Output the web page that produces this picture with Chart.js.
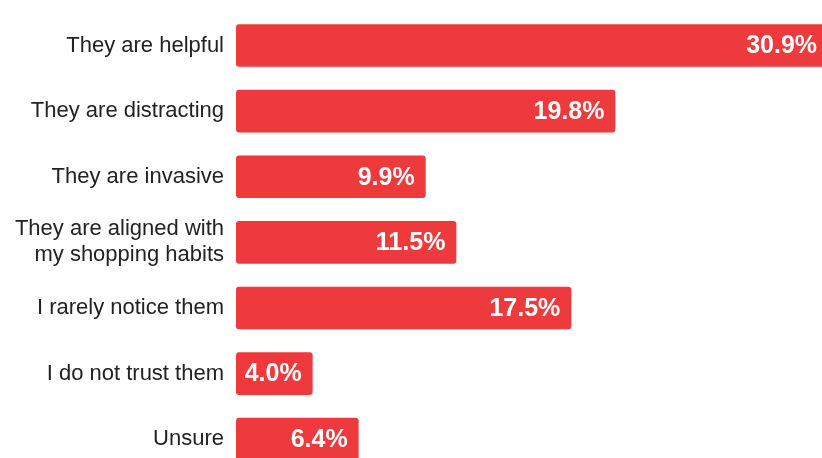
<!DOCTYPE html>
<html>
<head>
<meta charset="utf-8">
<script src="https://cdn.jsdelivr.net/npm/chart.js@4"></script>
<style>
  html, body { margin: 0; padding: 0; background: #fff; overflow: hidden; }
  #wrap { width: 830px; height: 480px; }
</style>
</head>
<body>
<div id="wrap"><canvas id="opinionChart" width="830" height="480"></canvas></div>
<script>
// --- Data ---
const categories = [
    "They are helpful",
    "They are distracting",
    "They are invasive",
    ["They are aligned with", "my shopping habits"],
    "I rarely notice them",
    "I do not trust them",
    "Unsure"
];
const shares = [30.9, 19.8, 9.9, 11.5, 17.5, 4.0, 6.4];
const xMax = 31;

const barRed = '#ee3a3c';

// --- Value labels drawn inside the end of each bar ---
const valueLabels = {
    id: 'valueLabels',
    afterDatasetsDraw(chart) {
        const ctx = chart.ctx;
        const meta = chart.getDatasetMeta(0);
        ctx.save();
        ctx.font = 'bold 25px "Liberation Sans", Arial, sans-serif';
        ctx.fillStyle = '#ffffff';
        ctx.textAlign = 'right';
        ctx.textBaseline = 'middle';
        meta.data.forEach((bar, i) => {
            ctx.fillText(shares[i].toFixed(1) + '%', bar.x - 11, bar.y + 1);
        });
        ctx.restore();
    }
};

const ctx = document.getElementById('opinionChart').getContext('2d');
const chart = new Chart(ctx, {
    type: 'bar',
    data: {
        labels: categories,
        datasets: [{
            data: shares,
            backgroundColor: barRed,
            borderRadius: 3,
            borderSkipped: false,
            barPercentage: 0.65,
            categoryPercentage: 1
        }]
    },
    options: {
        indexAxis: 'y',
        responsive: false,
        animation: false,
        layout: { padding: { top: 12.7, bottom: 8, left: 0, right: 0 } },
        plugins: {
            legend: { display: false },
            tooltip: { enabled: false }
        },
        scales: {
            x: {
                display: false,
                min: 0,
                max: xMax
            },
            y: {
                grid: { display: false },
                border: { display: false },
                ticks: {
                    padding: 4,
                    color: '#222',
                    font: { family: '"Liberation Sans", Arial, sans-serif', size: 22, lineHeight: 1.18 }
                },
                afterFit(scale) {
                    scale.width = 236;
                    scale.paddingTop = 0;
                    scale.paddingBottom = 0;
                }
            }
        }
    },
    plugins: [valueLabels]
});
</script>
</body>
</html>
